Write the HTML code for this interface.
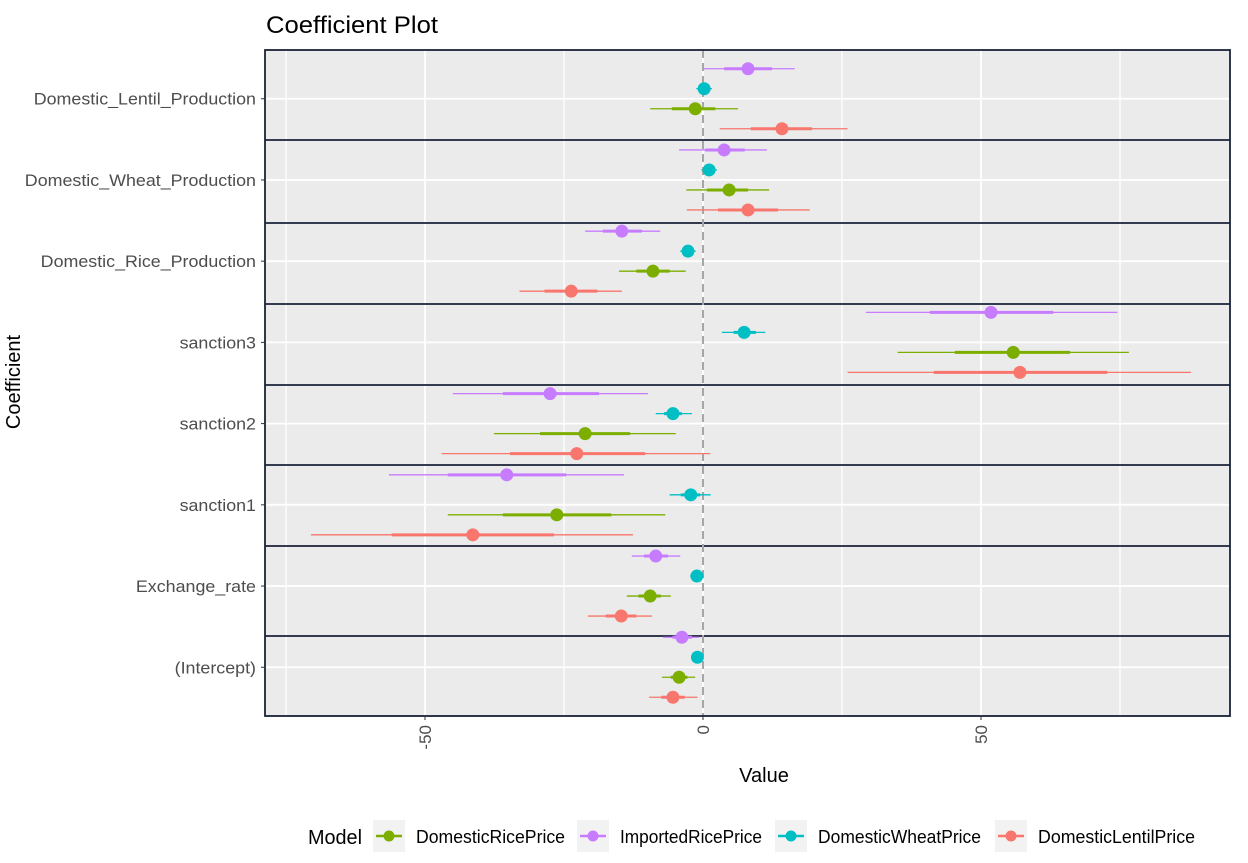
<!DOCTYPE html>
<html><head><meta charset="utf-8">
<style>
body{margin:0;background:#fff;font-family:"Liberation Sans",Arial,sans-serif;}
svg text{font-family:"Liberation Sans",Arial,sans-serif;}
</style></head>
<body>
<svg id="chart" width="1248" height="858" viewBox="0 0 1248 858">
<text x="266" y="33" font-size="24" textLength="172" lengthAdjust="spacingAndGlyphs" fill="#000">Coefficient Plot</text>
<g id="plot"></g>
</svg>
<script>
const categories=["Domestic_Lentil_Production","Domestic_Wheat_Production","Domestic_Rice_Production","sanction3","sanction2","sanction1","Exchange_rate","(Intercept)"];
const models=["ImportedRicePrice","DomesticWheatPrice","DomesticRicePrice","DomesticLentilPrice"];
const colors=["#C77CFF","#00BFC4","#7CAE00","#F8766D"];
// per model: [center, innerLo, innerHi, outerLo, outerHi] per category
const imported=[[8.1,3.8,12.4,0,16.5],[3.8,0.4,7.5,-4.3,11.5],[-14.6,-18,-11,-21.2,-7.7],[51.8,40.8,63,29.3,74.5],[-27.5,-36,-18.7,-45,-9.9],[-35.3,-45.9,-24.6,-56.5,-14.2],[-8.5,-10.6,-6.3,-12.8,-4.1],[-3.8,-5.5,-2,-7.2,-0.7]];
const wheat=[[0.2,-0.6,1,-1.2,1.6],[1.1,0.3,1.9,-0.3,2.5],[-2.7,-3.5,-1.9,-4.1,-1.3],[7.4,5.5,9.5,3.4,11.2],[-5.4,-7,-3.8,-8.5,-2],[-2.2,-4,-0.5,-6,1.4],[-1.1,-1.8,-0.4,-2.3,0.1],[-1,-1.6,-0.4,-2.1,0.1]];
const rice=[[-1.4,-5.6,2.2,-9.5,6.3],[4.7,0.7,8.1,-3,11.9],[-9,-12,-6,-15.1,-3.1],[55.8,45.3,66,35,76.6],[-21.2,-29.3,-13.1,-37.6,-4.9],[-26.3,-36,-16.5,-45.9,-6.8],[-9.5,-11.6,-7.6,-13.7,-5.8],[-4.3,-5.8,-2.8,-7.4,-1.4]];
const lentil=[[14.2,8.6,19.6,3,26],[8.1,2.7,13.5,-2.9,19.2],[-23.7,-28.5,-19,-33,-14.6],[57,41.5,72.7,26,87.8],[-22.7,-34.7,-10.4,-47,1.3],[-41.4,-56,-26.8,-70.5,-12.6],[-14.7,-17.5,-12,-20.7,-9.2],[-5.4,-7.5,-3.3,-9.7,-1]];
const series=[imported,wheat,rice,lentil];
const xTicks=[-50,0,50];
const xMinor=[-75,-25,25,75];
const offsets=[-30,-10,10,30];

const NS="http://www.w3.org/2000/svg";
const L=265,R=1230,T=50,B=716;
const x=v=>703+v*5.56;
const yC=i=>T+(i+0.6)*((B-T)/8.2);
const g=document.getElementById("plot");
function mk(tag,attrs,parent){const e=document.createElementNS(NS,tag);for(const k in attrs)e.setAttribute(k,attrs[k]);(parent||g).appendChild(e);return e;}
function stretch(t,ratio){const w=t.getComputedTextLength();t.setAttribute("textLength",w*ratio);t.setAttribute("lengthAdjust","spacingAndGlyphs");}

const bg=mk("rect",{x:L,y:T,width:R-L,height:B-T,fill:"#EBEBEB"});


xMinor.forEach(v=>{const l=mk("line",{x1:x(v),x2:x(v),y1:T,y2:B,stroke:"#fff","stroke-width":1.3});

});
xTicks.forEach(v=>{const l=mk("line",{x1:x(v),x2:x(v),y1:T,y2:B,stroke:"#fff","stroke-width":1.8});

});
categories.forEach((c,i)=>{const l=mk("line",{x1:L,x2:R,y1:yC(i),y2:yC(i),stroke:"#fff","stroke-width":1.8});

});
[140,223,304,385,465,546,636].forEach(yy=>{const l=mk("line",{x1:L,x2:R,y1:yy,y2:yy,stroke:"#1a2238","stroke-width":1.8});

});
const zl=mk("line",{x1:x(0),x2:x(0),y1:T,y2:B,stroke:"#a6a6a6","stroke-width":2,"stroke-dasharray":"8,5"});



series.forEach((s,m)=>{
  s.forEach((d,i)=>{
    const yy=yC(i)+offsets[m];
    const grp=mk("g",{});
    
    
    mk("line",{x1:x(d[3]),x2:x(d[4]),y1:yy,y2:yy,stroke:colors[m],"stroke-width":1.3},grp);
    mk("line",{x1:x(d[1]),x2:x(d[2]),y1:yy,y2:yy,stroke:colors[m],"stroke-width":3},grp);
    mk("circle",{cx:x(d[0]),cy:yy,r:6.5,fill:colors[m]},grp);
  });
});
const border=mk("rect",{x:L,y:T,width:R-L,height:B-T,fill:"none",stroke:"#1a2238","stroke-width":1.8});



categories.forEach((c,i)=>{
  const t=mk("text",{x:256,y:yC(i)+6,"text-anchor":"end","font-size":17,fill:"#4d4d4d"});
  t.textContent=c;
  
  
  stretch(t,1.05);
  const tk=mk("line",{x1:261,x2:265,y1:yC(i),y2:yC(i),stroke:"#333","stroke-width":1});
  
  
});
xTicks.forEach(v=>{
  const tk=mk("line",{x1:x(v),x2:x(v),y1:B,y2:B+4,stroke:"#333","stroke-width":1});
  
  
  const t=mk("text",{x:0,y:0,"text-anchor":"end","font-size":17,fill:"#4d4d4d",transform:`translate(${x(v)+6},${B+9}) rotate(-90)`});
  t.textContent=v;
  
  
});
const xt=mk("text",{x:764,y:782,"text-anchor":"middle","font-size":20,fill:"#000"});
xt.textContent="Value";


const yt=mk("text",{x:0,y:0,"text-anchor":"middle","font-size":20,fill:"#000",transform:"translate(20,382) rotate(-90)"});
yt.textContent="Coefficient";



// legend
const lt=mk("text",{x:308,y:844,"font-size":20,fill:"#000",textLength:54,lengthAdjust:"spacingAndGlyphs"});
lt.textContent="Model";


const legOrder=[2,0,1,3];
const legX=[373,577,775,995];
const legW=[149,142,163,157];
legOrder.forEach((m,k)=>{
  const grp=mk("g",{});
  
  
  const kx=legX[k];
  mk("rect",{x:kx,y:820,width:32,height:32,fill:"#F2F2F2"},grp);
  mk("line",{x1:kx+3,x2:kx+29,y1:836,y2:836,stroke:colors[m],"stroke-width":2.5},grp);
  mk("circle",{cx:kx+16,cy:836,r:5.5,fill:colors[m]},grp);
  const t=mk("text",{x:kx+43,y:843,"font-size":18,fill:"#000",textLength:legW[k],lengthAdjust:"spacingAndGlyphs"},grp);
  t.textContent=models[m];
});
</script>
</body></html>
